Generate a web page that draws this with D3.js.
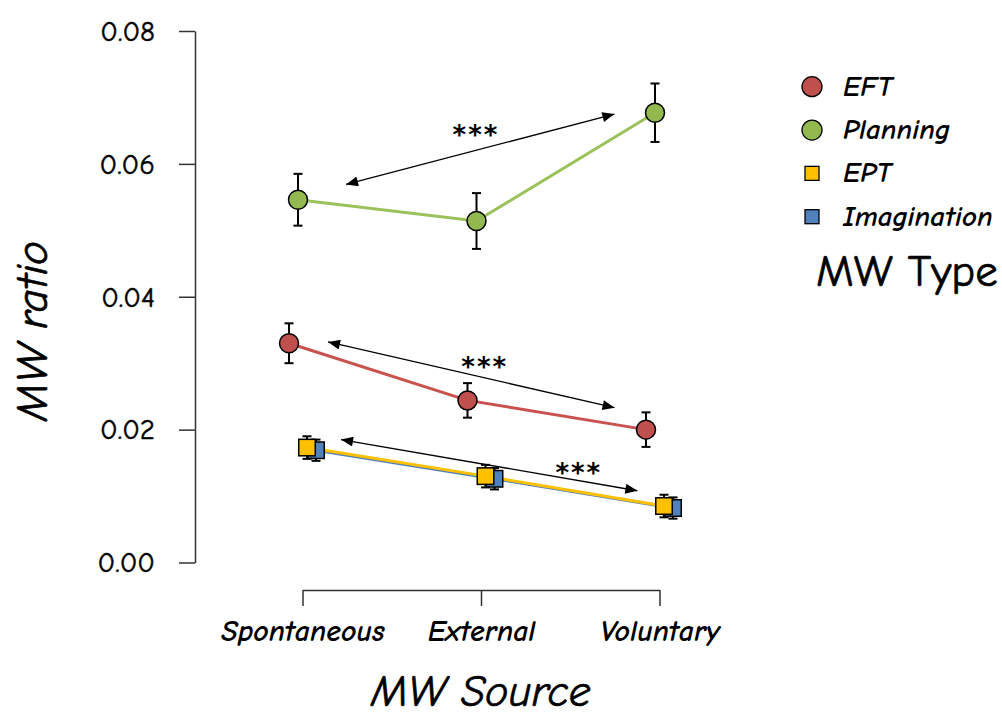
<!DOCTYPE html>
<html><head><meta charset="utf-8">
<script src="https://cdn.jsdelivr.net/npm/d3@7"></script>
<style>
body{margin:0;background:#fff;}
svg{display:block;}
text{font-family:"Comic Sans MS","Comic Neue","Open Sans",sans-serif;fill:#000;}
</style></head>
<body><svg id="chart" width="1002" height="720"></svg>
<script>
// ---- data ----
const categories = ["Spontaneous", "External", "Voluntary"];
const seriesNames = ["EFT", "Planning", "EPT", "Imagination"];
const seriesShapes = ["circle", "circle", "square", "square"];
const seriesColors = ["#C0504D", "#92B94F", "#FFC000", "#4F81BD"];
const lineColors = ["#C9524E", "#9BC25A", "#FFC000", "#4F81BD"];
const eftMeans = [0.0330, 0.0244, 0.0200];
const eftErr = [0.0030, 0.0026, 0.0026];
const planningMeans = [0.0546, 0.0514, 0.0677];
const planningErr = [0.0039, 0.0042, 0.0044];
const eptMeans = [0.0173, 0.0130, 0.0085];
const eptErr = [0.0017, 0.0017, 0.0017];
const imaginationMeans = [0.0169, 0.0126, 0.0082];
const imaginationErr = [0.0016, 0.0016, 0.0016];
const yTicks = [0, 0.02, 0.04, 0.06, 0.08];
const yTickLabels = ["0.00", "0.02", "0.04", "0.06", "0.08"];
// significance arrows: positions in category-index units and data units
const arrowX1 = [0.244, 0.143, 0.216];
const arrowY1 = [0.0569, 0.0332, 0.0185];
const arrowX2 = [1.747, 1.748, 1.876];
const arrowY2 = [0.0675, 0.0233, 0.0108];
const starX = [0.972, 1.021, 1.548];
const starY = [0.0650, 0.0301, 0.0140];
const starLabel = "***";

const means = [eftMeans, planningMeans, eptMeans, imaginationMeans];
const errs = [eftErr, planningErr, eptErr, imaginationErr];

// ---- scales ----
const svg = d3.select("#chart");
const y = d3.scaleLinear().domain([0, 0.08]).range([562.5, 31]);
const x = d3.scalePoint().domain(categories).range([302.5, 659.5]);
const xi = d3.scaleLinear().domain([0, categories.length - 1]).range(x.range());
const dodge = d3.scaleLinear().domain([0, seriesNames.length - 1]).range([-13.5, 13.5]);

const series = seriesNames.map((name, s) => ({
  name, s, shape: seriesShapes[s], fill: seriesColors[s], line: lineColors[s],
  pts: categories.map((c, i) => ({c, i, v: means[s][i], e: errs[s][i]}))
}));
const px = (s, d) => x(d.c) + dodge(s);

// ---- axes ----
const yAxis = d3.axisLeft(y).tickValues(yTicks).tickFormat((d, i) => yTickLabels[i])
  .tickSize(16).tickSizeOuter(0).tickPadding(24);
const gy = svg.append("g").attr("transform", "translate(195,0)").call(yAxis);
gy.selectAll("path,line").attr("stroke", "#333").attr("stroke-width", 1.5);
gy.selectAll("text").attr("font-size", 29).attr("stroke", "#000").attr("stroke-width", 0.5);

const xAxis = d3.axisBottom(x).tickSize(16).tickSizeOuter(0).tickPadding(0);
const gx = svg.append("g").attr("transform", "translate(0,590)").call(xAxis);
gx.selectAll("path,line").attr("stroke", "#333").attr("stroke-width", 1.5);
gx.selectAll("text").attr("y", 51).attr("dy", 0).attr("font-size", 30)
  .attr("font-weight", "bold").attr("font-style", "italic");

// ---- axis titles ----
svg.append("text").attr("x", (x.range()[0] + x.range()[1]) / 2).attr("y", 706)
  .attr("text-anchor", "middle").attr("font-size", 44).attr("font-style", "italic")
  .attr("stroke", "#000").attr("stroke-width", 0.7).text("MW Source");
svg.append("text").attr("transform", "translate(47,331) rotate(-90)")
  .attr("text-anchor", "middle").attr("font-size", 45).attr("font-style", "italic")
  .attr("stroke", "#000").attr("stroke-width", 0.7).text("MW ratio");

// ---- arrows ----
const defs = svg.append("defs");
defs.append("marker").attr("id", "ah").attr("viewBox", "0 0 12 10").attr("refX", 12).attr("refY", 5)
  .attr("markerWidth", 13).attr("markerHeight", 10).attr("markerUnits", "userSpaceOnUse")
  .attr("orient", "auto-start-reverse")
  .append("path").attr("d", "M0,0L12,5L0,10Z").attr("fill", "#000");
const arrows = arrowX1.map((d, k) => ({x1: arrowX1[k], y1: arrowY1[k], x2: arrowX2[k], y2: arrowY2[k]}));
svg.append("g").selectAll("line").data(arrows).join("line")
  .attr("x1", d => xi(d.x1)).attr("y1", d => y(d.y1))
  .attr("x2", d => xi(d.x2)).attr("y2", d => y(d.y2))
  .attr("stroke", "#000").attr("stroke-width", 1.3)
  .attr("marker-start", "url(#ah)").attr("marker-end", "url(#ah)");
svg.append("g").selectAll("text").data(starX).join("text")
  .attr("x", (d) => xi(d)).attr("y", (d, k) => y(starY[k]) + 13)
  .attr("text-anchor", "middle").attr("font-size", 26).attr("font-weight", "bold")
  .style("font-family", "'DejaVu Sans',sans-serif").attr("letter-spacing", 2)
  .text(starLabel);

// ---- lines ----
const lineGen = s => d3.line().x(d => px(s, d)).y(d => y(d.v));
const drawOrder = [0, 1, 3, 2];
const gl = svg.append("g");
drawOrder.forEach(s => {
  gl.append("path").datum(series[s].pts).attr("d", lineGen(s))
    .attr("fill", "none").attr("stroke", series[s].line).attr("stroke-width", 3);
});

// ---- error bars + points ----
const capW = 4.5;
drawOrder.forEach(s => {
  const sr = series[s];
  const g = svg.append("g");
  const eb = g.selectAll("g.eb").data(sr.pts).join("g");
  eb.append("line").attr("x1", d => px(s, d)).attr("x2", d => px(s, d))
    .attr("y1", d => y(d.v - d.e)).attr("y2", d => y(d.v + d.e))
    .attr("stroke", "#000").attr("stroke-width", 2);
  eb.append("line").attr("x1", d => px(s, d) - capW).attr("x2", d => px(s, d) + capW)
    .attr("y1", d => y(d.v + d.e)).attr("y2", d => y(d.v + d.e))
    .attr("stroke", "#000").attr("stroke-width", 2);
  eb.append("line").attr("x1", d => px(s, d) - capW).attr("x2", d => px(s, d) + capW)
    .attr("y1", d => y(d.v - d.e)).attr("y2", d => y(d.v - d.e))
    .attr("stroke", "#000").attr("stroke-width", 2);
  if (sr.shape === "circle") {
    g.selectAll("circle").data(sr.pts).join("circle")
      .attr("cx", d => px(s, d)).attr("cy", d => y(d.v)).attr("r", 9.5)
      .attr("fill", sr.fill).attr("stroke", "#000").attr("stroke-width", 1.5);
  } else {
    const sz = 16.5;
    g.selectAll("rect").data(sr.pts).join("rect")
      .attr("x", d => px(s, d) - sz / 2).attr("y", d => y(d.v) - sz / 2)
      .attr("width", sz).attr("height", sz)
      .attr("fill", sr.fill).attr("stroke", "#000").attr("stroke-width", 1.5);
  }
});

// ---- legend ----
const leg = svg.append("g");
const ly = d3.scaleLinear().domain([0, 3]).range([86.7, 216.7]);
series.forEach((sr, k) => {
  if (sr.shape === "circle") {
    leg.append("circle").attr("cx", 812).attr("cy", ly(k)).attr("r", 10)
      .attr("fill", sr.fill).attr("stroke", "#000").attr("stroke-width", 1.3);
  } else {
    leg.append("rect").attr("x", 805).attr("y", ly(k) - 7).attr("width", 14).attr("height", 14)
      .attr("fill", sr.fill).attr("stroke", "#000").attr("stroke-width", 1.3);
  }
  leg.append("text").attr("x", 843).attr("y", ly(k) + 9).attr("font-size", 29)
    .attr("font-weight", "bold").attr("font-style", "italic").text(sr.name);
});
leg.append("text").attr("x", 816).attr("y", 286).attr("font-size", 45)
  .attr("stroke", "#000").attr("stroke-width", 0.7).text("MW Type");
</script></body></html>
